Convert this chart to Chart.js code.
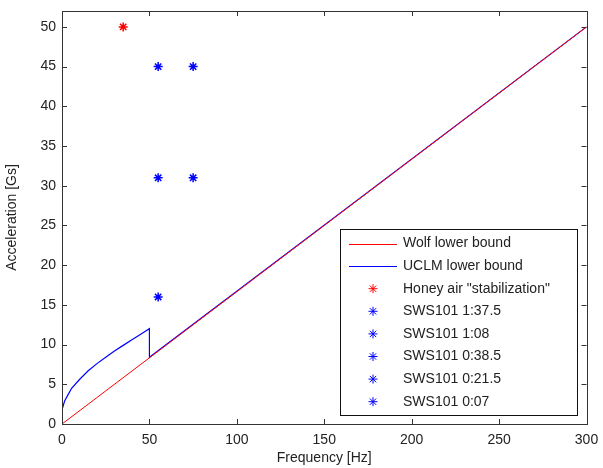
<!DOCTYPE html>
<html>
<head>
<meta charset="utf-8">
<script src="https://cdn.jsdelivr.net/npm/chart.js@4"></script>
<style>
  html, body { margin: 0; padding: 0; background: #fff; }
  #wrap { width: 603px; height: 468px; }
</style>
</head>
<body>
<div id="wrap"><canvas id="accelChart" width="603" height="468"></canvas></div>
<script>
// -- DATA --
const wolfFreq = [0, 300];
const wolfAccel = [0, 50];

const uclmFreq = [0, 1.5, 3.5, 5.5, 10, 15, 20, 25, 30, 35, 40, 45, 50, 50, 300];
const uclmAccel = [1.8, 2.9, 3.7, 4.5, 5.6, 6.7, 7.6, 8.4, 9.2, 9.9, 10.6, 11.3, 12.0, 8.4, 50];

const honeyFreq = [35];
const honeyAccel = [50];

const swsLabels = ["SWS101 1:37.5", "SWS101 1:08", "SWS101 0:38.5", "SWS101 0:21.5", "SWS101 0:07"];
const swsFreq = [55, 55, 75, 55, 75];
const swsAccel = [16, 31, 31, 45, 45];

const xTicks = [0, 50, 100, 150, 200, 250, 300];
const yTicks = [0, 5, 10, 15, 20, 25, 30, 35, 40, 45, 50];

const toPoints = (xs, ys) => xs.map((x, i) => ({ x: x, y: ys[i] }));

const FONT = "'Liberation Sans', Arial, sans-serif";
const TEXT = "#222";

// line series
const datasets = [
  {
    label: "Wolf lower bound",
    data: toPoints(wolfFreq, wolfAccel),
    showLine: true, borderColor: "#ff0000", borderWidth: 1, pointRadius: 0,
  },
  {
    label: "UCLM lower bound",
    data: toPoints(uclmFreq, uclmAccel),
    showLine: true, borderColor: "#0000ff", borderWidth: 1.2, pointRadius: 0,
  },
  {
    label: 'Honey air "stabilization"',
    data: toPoints(honeyFreq, honeyAccel),
    showLine: false, pointStyle: "star", pointRadius: 4.5,
    borderColor: "#ff0000", backgroundColor: "#ff0000", pointBorderWidth: 1.5,
  },
];

// one marker per SWS101 run
swsLabels.forEach((lbl, i) => {
  datasets.push({
    label: lbl,
    data: [{ x: swsFreq[i], y: swsAccel[i] }],
    showLine: false, pointStyle: "star", pointRadius: 4.5,
    borderColor: "#0000ff", backgroundColor: "#0000ff", pointBorderWidth: 1.5,
  });
});

// box, inward ticks and legend drawn like a MATLAB axes
const matlabAxes = {
  id: "matlabAxes",
  afterDatasetsDraw(chart) {
    const ctx = chart.ctx;
    const a = chart.chartArea;
    const xs = chart.scales.x;
    const ys = chart.scales.y;
    ctx.save();
    ctx.strokeStyle = "#333";
    ctx.lineWidth = 1;
    ctx.beginPath();
    xTicks.forEach((v) => {
      const px = Math.round(xs.getPixelForValue(v)) + 0.5;
      ctx.moveTo(px, a.bottom); ctx.lineTo(px, a.bottom - 5);
      ctx.moveTo(px, a.top); ctx.lineTo(px, a.top + 5);
    });
    yTicks.forEach((v) => {
      const py = Math.round(ys.getPixelForValue(v)) + 0.5;
      ctx.moveTo(a.left, py); ctx.lineTo(a.left + 5, py);
      ctx.moveTo(a.right, py); ctx.lineTo(a.right - 5, py);
    });
    ctx.stroke();
    ctx.strokeRect(Math.round(a.left) + 0.5, Math.round(a.top) + 0.5,
      Math.round(a.right - a.left), Math.round(a.bottom - a.top));

    // legend
    const bx = 340.5, by = 229.5, bw = 237, bh = 186, rowH = 22.6;
    ctx.fillStyle = "#fff";
    ctx.fillRect(bx, by, bw, bh);
    ctx.strokeStyle = "#111";
    ctx.strokeRect(bx, by, bw, bh);
    ctx.font = "14px " + FONT;
    ctx.textBaseline = "middle";
    chart.data.datasets.forEach((ds, i) => {
      const cy = by + 14 + i * rowH;
      if (ds.showLine) {
        ctx.strokeStyle = ds.borderColor;
        ctx.lineWidth = 1;
        ctx.beginPath();
        ctx.moveTo(349, Math.round(cy) + 0.5);
        ctx.lineTo(397, Math.round(cy) + 0.5);
        ctx.stroke();
      } else {
        ctx.strokeStyle = ds.borderColor;
        ctx.fillStyle = ds.backgroundColor;
        Chart.helpers.drawPoint(ctx, {
          pointStyle: "star", radius: 4.5, borderWidth: 1.5, rotation: 0,
        }, 373, cy);
      }
      ctx.fillStyle = TEXT;
      ctx.fillText(ds.label, 403, cy);
    });
    ctx.restore();
  },
};

new Chart(document.getElementById("accelChart"), {
  type: "scatter",
  data: { datasets: datasets },
  options: {
    responsive: false,
    animation: false,
    events: [],
    layout: { padding: { top: 11, right: 16.5, left: 0, bottom: 0 } },
    plugins: { legend: { display: false }, tooltip: { enabled: false } },
    scales: {
      x: {
        type: "linear", min: 0, max: 300,
        afterBuildTicks: (s) => { s.ticks = xTicks.map((v) => ({ value: v })); },
        afterFit: (s) => {
          s.height = 44;
          s.paddingLeft = 0;
          s.paddingRight = 0;
        },
        grid: { display: false, drawTicks: false },
        border: { display: false },
        ticks: { padding: 8, color: TEXT, font: { family: FONT, size: 14 } },
        title: {
          display: true, text: "Frequency [Hz]", color: TEXT,
          font: { family: FONT, size: 14 }, padding: { top: 0, bottom: 1 },
        },
      },
      y: {
        type: "linear", min: 0, max: 52,
        afterBuildTicks: (s) => { s.ticks = yTicks.map((v) => ({ value: v })); },
        afterFit: (s) => {
          s.width = 62;
          s.paddingTop = 0;
          s.paddingBottom = 0;
        },
        grid: { display: false, drawTicks: false },
        border: { display: false },
        ticks: { padding: 6, color: TEXT, font: { family: FONT, size: 14 } },
        title: {
          display: true, text: "Acceleration [Gs]", color: TEXT,
          font: { family: FONT, size: 14 }, padding: { top: 4, bottom: 0 },
        },
      },
    },
  },
  plugins: [matlabAxes],
});
</script>
</body>
</html>
